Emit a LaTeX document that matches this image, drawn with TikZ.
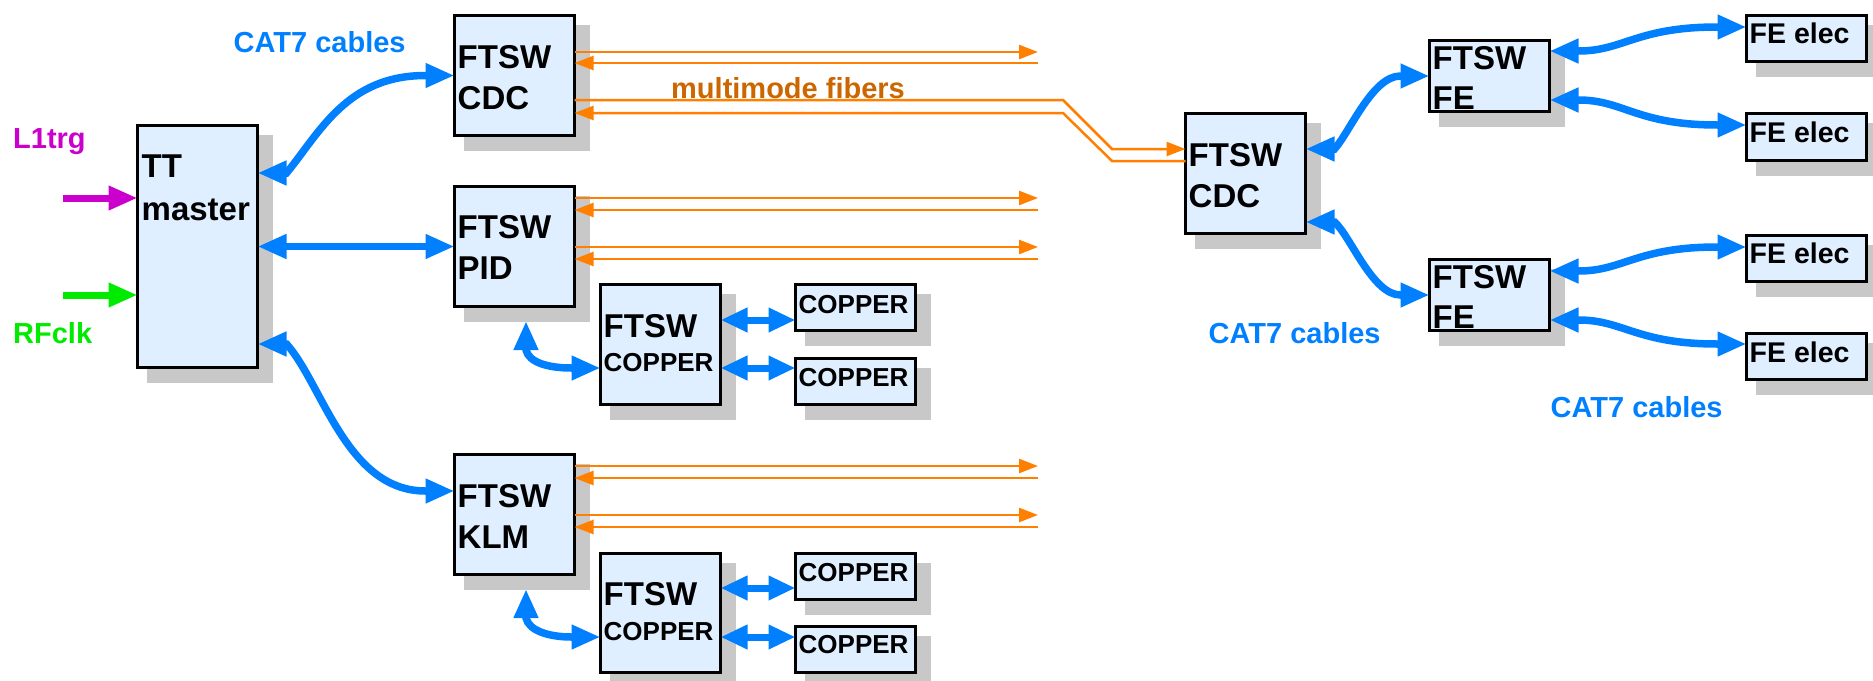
\documentclass[tikz,border=0pt]{standalone}
\usepackage{fontspec}
\setmainfont{Liberation Sans}
\usetikzlibrary{arrows.meta,shadows,calc}
\definecolor{boxblue}{RGB}{223,239,255}
\definecolor{shadowgray}{RGB}{200,200,200}
\definecolor{cabblue}{RGB}{0,128,255}
\definecolor{fiborange}{RGB}{255,128,0}
\definecolor{fibtext}{RGB}{204,102,0}
\definecolor{trgmag}{RGB}{204,0,204}
\definecolor{clkgreen}{RGB}{0,235,0}
\begin{document}
\begin{tikzpicture}[x=1pt,y=-1pt,
  box/.style={rectangle, draw=black, line width=3pt, fill=boxblue, inner sep=0pt, outer sep=0pt,
    anchor=north west, minimum width=120pt,
    drop shadow={shadow xshift=12.5pt, shadow yshift=-12.5pt, fill=shadowgray, draw=shadowgray, line width=6pt, opacity=1}},
  sq/.style={minimum height=120pt},
  fe/.style={minimum height=71pt},
  sm/.style={minimum height=46pt},
  btxt/.style={anchor=north west, inner sep=0pt, align=left, font=\fontsize{33}{41}\selectfont\bfseries},
  stxt/.style={anchor=north west, inner sep=0pt, align=left, font=\fontsize{26}{30}\selectfont\bfseries},
  etxt/.style={anchor=north west, inner sep=0pt, align=left, font=\fontsize{28.5}{34}\selectfont\bfseries},
  lab/.style={anchor=base west, inner sep=0pt, font=\fontsize{29}{35}\selectfont\bfseries},
  cab/.style={draw=cabblue, line width=7.5pt, <->, >={Triangle[length=29pt,width=23pt]}},
  cu/.style={draw=cabblue, line width=7pt, <->, >={Triangle[length=27pt,width=23pt]}},
  fib/.style={draw=fiborange, line width=2.5pt, >={Triangle[length=19pt,width=14pt]}},
  sig/.style={line width=7pt, ->, >={Triangle[length=29pt,width=23pt]}}
]
\useasboundingbox (0,0) rectangle (1873,680);

% ---------- boxes ----------
\node[box, minimum height=242pt] (tt) at (137.5,125.5) {};
\node[box, sq] (cdcL) at (454.5,15.5) {};
\node[box, sq] (pid) at (454.5,186.5) {};
\node[box, sq] (klm) at (454.5,454.5) {};
\node[box, sq] (cpid) at (600.5,284.5) {};
\node[box, minimum height=119pt] (cklm) at (600.5,553.5) {};
\node[box, sm] (cpidA) at (795.5,284.5) {};
\node[box, sm] (cpidB) at (795.5,358.5) {};
\node[box, sm] (cklmA) at (795.5,553.5) {};
\node[box, sm] (cklmB) at (795.5,626.5) {};
\node[box, sq] (cdcR) at (1185.5,113.5) {};
\node[box, fe] (feA) at (1429.5,40.5) {};
\node[box, fe] (feB) at (1429.5,259.5) {};
\node[box, sm] (el1) at (1746.5,15.5) {};
\node[box, minimum height=47pt] (el2) at (1746.5,113.5) {};
\node[box, sm] (el3) at (1746.5,235.5) {};
\node[box, sm] (el4) at (1746.5,333.5) {};

% ---------- box texts ----------
\node[btxt] (ttT) at ($(tt.north west)+(4,0)$) {\rule{0pt}{51.5pt}TT\\[2pt]master};
\node[btxt] (cdcLT) at ($(cdcL.north west)+(3,0)$) {\rule{0pt}{53pt}FTSW\\CDC};
\node[btxt] (pidT) at ($(pid.north west)+(3,0)$) {\rule{0pt}{52pt}FTSW\\PID};
\node[btxt] (klmT) at ($(klm.north west)+(3,0)$) {\rule{0pt}{53pt}FTSW\\KLM};
\node[btxt] (cpidT) at ($(cpid.north west)+(3,0)$) {\rule{0pt}{52.5pt}FTSW\\[-7pt]{\fontsize{26}{30}\selectfont COPPER}};
\node[btxt] (cklmT) at ($(cklm.north west)+(3,0)$) {\rule{0pt}{51.5pt}FTSW\\[-6pt]{\fontsize{26}{30}\selectfont COPPER}};
\node[btxt] (cdcRT) at ($(cdcR.north west)+(3,0)$) {\rule{0pt}{52.5pt}FTSW\\CDC};
\node[btxt] (feAT) at ($(feA.north west)+(3,0)$) {\rule{0pt}{28.5pt}FTSW\\[-1pt]FE};
\node[btxt] (feBT) at ($(feB.north west)+(3,0)$) {\rule{0pt}{28.5pt}FTSW\\[-1pt]FE};
\node[stxt] (cpidAT) at ($(cpidA.north west)+(3,0)$) {\rule{0pt}{28.5pt}COPPER};
\node[stxt] (cpidBT) at ($(cpidB.north west)+(3,0)$) {\rule{0pt}{27.5pt}COPPER};
\node[stxt] (cklmAT) at ($(cklmA.north west)+(3,0)$) {\rule{0pt}{27.5pt}COPPER};
\node[stxt] (cklmBT) at ($(cklmB.north west)+(3,0)$) {\rule{0pt}{26.5pt}COPPER};
\node[etxt] (el1T) at ($(el1.north west)+(3,0)$) {\rule{0pt}{27.5pt}FE elec};
\node[etxt] (el2T) at ($(el2.north west)+(3,0)$) {\rule{0pt}{28.5pt}FE elec};
\node[etxt] (el3T) at ($(el3.north west)+(3,0)$) {\rule{0pt}{27.5pt}FE elec};
\node[etxt] (el4T) at ($(el4.north west)+(3,0)$) {\rule{0pt}{28.5pt}FE elec};

% ---------- labels ----------
\node[lab, text=trgmag] (l1lab) at (13,148) {L1trg};
\node[lab, text=clkgreen] (rflab) at (13,343) {RFclk};
\node[lab, text=cabblue] (cat1) at (233.5,52) {CAT7 cables};
\node[lab, text=cabblue] (cat2) at (1208.5,343) {CAT7 cables};
\node[lab, text=cabblue] (cat3) at (1550.5,417) {CAT7 cables};

% ---------- fibers ----------
\coordinate (cO1) at (1038,52);  \coordinate (cO2) at (1038,63);
\draw[fib,->] (cdcL.east |- cO1) -- (cO1);
\draw[fib,->] (cO2) -- (cdcL.east |- cO2);
\coordinate (k1) at (1063,100); \coordinate (k2) at (1112,149);
\coordinate (k3) at (1063,113); \coordinate (k4) at (1112,161);
\draw[fib,->] (cdcL.east |- k1) -- (k1) -- (k2) -- (cdcR.west |- k2);
\draw[fib,->] (cdcR.west |- k4) -- (k4) -- (k3) -- (cdcL.east |- k3);

\coordinate (pO1) at (1038,198); \coordinate (pO2) at (1038,210);
\coordinate (pO3) at (1038,247); \coordinate (pO4) at (1038,259);
\draw[fib,->] (pid.east |- pO1) -- (pO1);
\draw[fib,->] (pO2) -- (pid.east |- pO2);
\draw[fib,->] (pid.east |- pO3) -- (pO3);
\draw[fib,->] (pO4) -- (pid.east |- pO4);

\coordinate (kO1) at (1038,466); \coordinate (kO2) at (1038,478);
\coordinate (kO3) at (1038,515); \coordinate (kO4) at (1038,527);
\draw[fib,->] (klm.east |- kO1) -- (kO1);
\draw[fib,->] (kO2) -- (klm.east |- kO2);
\draw[fib,->] (klm.east |- kO3) -- (kO3);
\draw[fib,->] (kO4) -- (klm.east |- kO4);

\node[lab, text=fibtext] (mmf) at (671,98.5) {multimode fibers};

% ---------- trigger / clock inputs ----------
\coordinate (l1s) at (63,198);
\draw[sig, draw=trgmag] (l1s) -- (tt.west |- l1s);
\coordinate (rfs) at (63,295);
\draw[sig, draw=clkgreen] (rfs) -- (tt.west |- rfs);

% ---------- CAT7 cables ----------
\draw[cab] ([yshift=-47.5pt]tt.north east) -- ++(29,0)
  .. controls +(33,-40) and +(-79,0) .. ($(cdcL.west)+(-29,0)$) -- (cdcL.west);
\draw[cab] (tt.east) -- (pid.west);
\draw[cab] ([yshift=-218.5pt]tt.north east) -- ++(29,0)
  .. controls +(36,40) and +(-79,0) .. ($([yshift=-36.5pt]klm.north west)+(-29,0)$) -- ([yshift=-36.5pt]klm.north west);

\draw[cab] ([shift={(71.5pt,-14.5pt)}]pid.south west) -- ++(0,29)
  .. controls +(3,13) and +(-22,0) .. ($([yshift=-83.5pt]cpid.north west)+(-29,0)$) -- ([yshift=-83.5pt]cpid.north west);
\draw[cab] ([shift={(71.5pt,-14.5pt)}]klm.south west) -- ++(0,29)
  .. controls +(3,13) and +(-22,0) .. ($([yshift=-83.5pt]cklm.north west)+(-29,0)$) -- ([yshift=-83.5pt]cklm.north west);

\coordinate (q1) at ([yshift=-35.5pt]cpid.north east);
\coordinate (q2) at ([yshift=-83.5pt]cpid.north east);
\coordinate (q3) at ([yshift=-34.5pt]cklm.north east);
\coordinate (q4) at ([yshift=-83.5pt]cklm.north east);
\draw[cu] (q1) -- (cpidA.west |- q1);
\draw[cu] (q2) -- (cpidB.west |- q2);
\draw[cu] (q3) -- (cklmA.west |- q3);
\draw[cu] (q4) -- (cklmB.west |- q4);

\draw[cab] ([yshift=-35.5pt]cdcR.north east) -- ++(29,0)
  .. controls +(16,-18) and +(-28,0) .. ($(feA.west)+(-29,0)$) -- (feA.west);
\draw[cab] ([yshift=-108.5pt]cdcR.north east) -- ++(29,0)
  .. controls +(16,14) and +(-28,0) .. ($(feB.west)+(-29,0)$) -- (feB.west);

\draw[cab] ([yshift=-10.5pt]feA.north east) -- ++(29,0)
  .. controls +(45,0) and +(-81,0) .. ($([yshift=-11.5pt]el1.north west)+(-29,0)$) -- ([yshift=-11.5pt]el1.north west);
\draw[cab] ([yshift=-59.5pt]feA.north east) -- ++(29,0)
  .. controls +(45,0) and +(-81,0) .. ($([yshift=-11.5pt]el2.north west)+(-29,0)$) -- ([yshift=-11.5pt]el2.north west);
\draw[cab] ([yshift=-11.5pt]feB.north east) -- ++(29,0)
  .. controls +(45,0) and +(-81,0) .. ($([yshift=-11.5pt]el3.north west)+(-29,0)$) -- ([yshift=-11.5pt]el3.north west);
\draw[cab] ([yshift=-60.5pt]feB.north east) -- ++(29,0)
  .. controls +(45,0) and +(-81,0) .. ($([yshift=-10.5pt]el4.north west)+(-29,0)$) -- ([yshift=-10.5pt]el4.north west);
\end{tikzpicture}
\end{document}
